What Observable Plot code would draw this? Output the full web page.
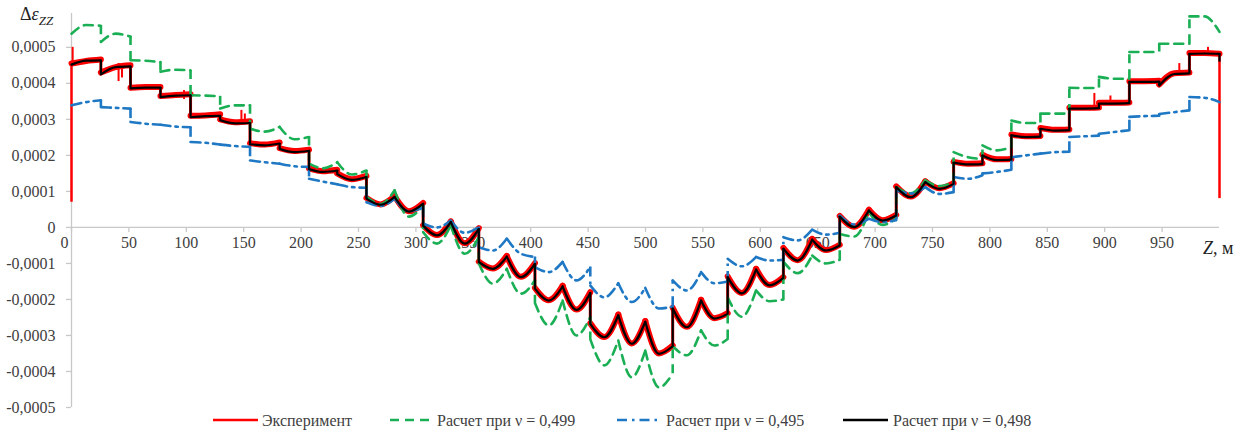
<!DOCTYPE html>
<html><head><meta charset="utf-8">
<script src="https://cdn.jsdelivr.net/npm/d3@7"></script>
<script src="https://cdn.jsdelivr.net/npm/@observablehq/plot@0.6"></script>
<style>
html,body{margin:0;padding:0;background:#fff;}
#wrap{position:relative;width:1245px;height:431px;font-family:"Liberation Serif","Times New Roman",serif;color:#404040;}
#chart svg text{font-family:"Liberation Serif","Times New Roman",serif !important;}
#ylab{position:absolute;left:20px;top:4px;font-size:18px;color:#222;font-family:"Liberation Serif",serif;}
#xlab{position:absolute;left:1203px;top:238px;font-size:18px;color:#222;font-family:"Liberation Serif",serif;}
.leg{position:absolute;top:410px;height:21px;font-size:16px;line-height:21px;white-space:nowrap;font-family:"Liberation Serif",serif;color:#404040;}
</style></head>
<body><div id="wrap">
<div id="chart"></div>
<div id="ylab">Δ<i>ε</i><sub style="font-size:13px"><i>ZZ</i></sub></div>
<div id="xlab"><i>Z</i>, м</div>
<div id="legend"></div>
</div>
<script>
// values in units of 1e-4
const SCALE = 1e-4;
const zBounds = [0, 25.6, 51.4, 77.5, 103.7, 129.5, 155.5, 181.3, 206.9, 231.5, 256.9, 281.5, 306.3, 330.4, 354.8, 379.2, 403.7, 427.8, 451.9, 476.3, 499.8, 523.7, 548.4, 571.6, 596.3, 620.1, 645.2, 669.2, 694.6, 718.4, 743.7, 768.4, 793.5, 818.7, 844, 869.2, 895, 921.5, 947.5, 973.8, 1000];

const blackStart = [4.52,4.25,3.86,3.62,3.06,2.98,2.31,2.18,1.62,1.48,0.80,0.84,0.05,0.15,-0.96,-0.81,-1.70,-1.64,-2.68,-2.44,-2.62,-2.25,-2.03,-1.38,-1.17,-0.59,-0.34,0.30,0.47,1.12,1.26,1.80,2.00,2.56,2.74,3.30,3.44,4.04,3.94,4.82];
const blackMid   = [4.63,4.45,3.88,3.66,3.09,2.89,2.28,2.09,1.54,1.32,0.63,0.44,-0.22,-0.45,-1.15,-1.38,-2.03,-2.29,-3.05,-3.23,-3.51,-2.77,-2.53,-1.83,-1.61,-0.92,-0.64,0.01,0.19,0.84,1.07,1.75,1.87,2.51,2.69,3.30,3.44,4.04,4.26,4.83];
const blackEnd   = [4.64,4.47,3.88,3.67,3.10,2.90,2.33,2.13,1.58,1.40,0.85,0.66,0.15,-0.04,-0.81,-1.01,-1.64,-1.82,-2.44,-2.62,-3.30,-2.03,-2.40,-1.17,-1.40,-0.34,-0.50,0.47,0.33,1.26,1.21,1.76,1.88,2.52,2.70,3.31,3.45,4.05,4.28,4.82];
// final drop of the calculated curve at z = 1000: from, to
const blackEdge = [4.82, 4.59];

const redStart = [4.55,4.30,3.88,3.65,3.10,3.00,2.34,2.20,1.64,1.50,0.82,0.86,0.06,0.16,-0.95,-0.80,-1.68,-1.62,-2.66,-2.42,-2.60,-2.23,-2.01,-1.36,-1.15,-0.57,-0.32,0.32,0.49,1.14,1.28,1.82,2.02,2.58,2.76,3.32,3.46,4.06,3.97,4.84];
const redMid   = [4.62,4.45,3.90,3.68,3.11,2.92,2.30,2.12,1.56,1.34,0.64,0.45,-0.21,-0.44,-1.14,-1.37,-2.02,-2.28,-3.04,-3.22,-3.50,-2.76,-2.52,-1.82,-1.60,-0.91,-0.63,0.02,0.20,0.86,1.09,1.77,1.89,2.53,2.71,3.32,3.46,4.06,4.28,4.84];
const redEnd   = [4.66,4.50,3.90,3.70,3.14,2.95,2.36,2.16,1.60,1.43,0.87,0.68,0.17,-0.02,-0.79,-0.99,-1.62,-1.80,-2.42,-2.60,-3.28,-2.01,-2.38,-1.15,-1.38,-0.32,-0.48,0.49,0.35,1.28,1.23,1.78,1.90,2.54,2.72,3.33,3.47,4.07,4.30,4.82];
// visible noise spikes of the measured curve: z, low, high
const redSpikeZ  = [1.0, 41, 44, 98, 148, 151, 891, 905, 965, 990];
const redSpikeLo = [4.5, 4.05, 4.15, 3.55, 2.95, 2.95, 3.35, 3.45, 4.30, 4.80];
const redSpikeHi = [5.0, 4.55, 4.5, 3.80, 3.25, 3.15, 3.72, 3.65, 4.55, 5.00];
// edge transitions of the measured curve: z, from, to
const redEdgeZ = [0, 1000];
const redEdgeA = [0.70, 4.82];
const redEdgeB = [4.55, 0.80];

const greenStart = [5.38,5.15,4.64,4.32,3.67,3.30,2.74,2.79,1.77,1.81,0.85,1.03,-0.13,0.06,-1.00,-1.15,-2.10,-2.03,-3.10,-3.14,-3.42,-3.30,-2.86,-1.95,-1.75,-0.95,-0.78,-0.18,0.43,1.12,1.31,2.09,2.28,2.97,3.16,3.88,4.18,4.87,5.10,5.86];
const greenMid   = [5.62,5.38,4.63,4.38,3.66,3.39,2.66,2.45,1.64,1.47,0.65,0.30,-0.45,-0.73,-1.56,-1.84,-2.72,-3.00,-3.83,-4.16,-4.44,-3.55,-3.28,-2.48,-2.05,-1.27,-1.00,-0.25,0.07,0.95,1.15,1.95,2.14,2.90,3.16,3.87,4.13,4.87,5.10,5.86];
const greenEnd   = [5.60,5.30,4.59,4.36,3.64,3.39,2.79,2.51,1.81,1.58,1.03,0.60,0.06,-0.27,-1.15,-1.47,-2.03,-2.49,-3.14,-3.42,-4.06,-2.86,-3.10,-1.75,-2.00,-0.78,-0.90,0.43,0.25,1.31,1.26,1.90,2.23,2.90,3.16,3.87,4.13,4.87,5.10,5.43];

const blueStart = [3.39,3.34,2.93,2.85,2.37,2.30,1.86,1.77,1.35,1.20,0.70,0.80,0.10,0.19,-0.55,-0.31,-1.10,-0.96,-1.61,-1.55,-1.68,-1.47,-1.24,-0.87,-0.82,-0.27,-0.06,0.33,0.24,1.03,1.12,1.40,1.50,1.95,2.05,2.51,2.60,3.07,3.15,3.62];
const blueMid   = [3.48,3.32,2.88,2.80,2.35,2.26,1.81,1.70,1.27,1.12,0.60,0.45,0.00,-0.15,-0.64,-0.73,-1.24,-1.47,-1.94,-2.07,-2.25,-1.75,-1.55,-1.08,-0.92,-0.36,-0.20,0.08,0.15,0.94,0.93,1.35,1.54,2.00,2.09,2.53,2.65,3.09,3.20,3.60];
const blueEnd   = [3.53,3.30,2.85,2.78,2.30,2.24,1.77,1.68,1.20,1.10,0.80,0.55,0.19,0.01,-0.31,-0.82,-0.96,-1.10,-1.55,-1.68,-2.20,-1.24,-1.50,-0.82,-0.90,-0.06,-0.15,0.24,0.20,1.12,0.98,1.45,1.60,2.05,2.10,2.55,2.70,3.10,3.25,3.48];

const xTicks = d3.range(0, 1000, 50);
const yTicks = [-5,-4,-3,-2,-1,0,1,2,3,4,5].map(d => d * SCALE);

function segRows(S, M, E) {
  const rows = [];
  S.forEach((s, i) => {
    const a = zBounds[i], b = zBounds[i + 1];
    rows.push({z: a, v: s * SCALE, seg: i});
    rows.push({z: (a + b) / 2, v: M[i] * SCALE, seg: i});
    rows.push({z: b, v: E[i] * SCALE, seg: i});
  });
  return rows;
}
function jumpRows(S, E) {
  const rows = [];
  for (let i = 1; i < S.length; i++) rows.push({z: zBounds[i], v1: E[i - 1] * SCALE, v2: S[i] * SCALE});
  return rows;
}
const fmt = v => {
  if (Math.abs(v) < 1e-12) return "0";
  return (v < 0 ? "-" : "") + Math.abs(v).toFixed(4).replace(".", ",");
};

const series = [
  {S: redStart, M: redMid, E: redEnd, stroke: "#ff0000", w: 6, dash: null},
  {S: greenStart, M: greenMid, E: greenEnd, stroke: "#1aaf54", w: 2.6, dash: "9,6"},
  {S: blueStart, M: blueMid, E: blueEnd, stroke: "#1f78c4", w: 2.6, dash: "10,5,2.5,5"},
  {S: blackStart, M: blackMid, E: blackEnd, stroke: "#000000", w: 2.2, dash: null}
];

const marks = [
  Plot.ruleX([0], {stroke: "#c8c8c8", strokeWidth: 1.3}),
  Plot.ruleY([0], {stroke: "#c8c8c8", strokeWidth: 1.3}),
  Plot.ruleX(xTicks, {x: d => d, y1: 0, y2: 0, insetBottom: -5, stroke: "#c8c8c8", strokeWidth: 1.3}),
  Plot.ruleY(yTicks, {y: d => d, x1: 0, x2: 0, insetLeft: -5, stroke: "#c8c8c8", strokeWidth: 1.3}),
  Plot.text(yTicks, {x: 0, y: d => d, text: fmt, textAnchor: "end", dx: -16, fill: "#404040", fontSize: 16}),
  Plot.text(xTicks.filter(d => d > 0), {x: d => d, y: 0, text: d => String(d), dy: 15, fill: "#404040", fontSize: 16}),
  Plot.text(xTicks.filter(d => d === 0), {x: d => d, y: 0, text: d => String(d), dy: 15, dx: -7, fill: "#404040", fontSize: 16})
];

series.forEach((s, k) => {
  marks.push(Plot.line(segRows(s.S, s.M, s.E), {x: "z", y: "v", z: "seg", curve: "monotone-x", stroke: s.stroke, strokeWidth: s.w, strokeDasharray: s.dash, strokeLinejoin: "round"}));
  marks.push(Plot.ruleX(jumpRows(s.S, s.E), {x: "z", y1: "v1", y2: "v2", stroke: s.stroke, strokeWidth: k === 0 ? 3 : s.w, strokeDasharray: s.dash}));
  if (k === 0) {
    const sp = redSpikeZ.map((z, i) => ({z, lo: redSpikeLo[i] * SCALE, hi: redSpikeHi[i] * SCALE}));
    marks.push(Plot.ruleX(sp, {x: "z", y1: "lo", y2: "hi", stroke: "#ff0000", strokeWidth: 2}));
    const ed = redEdgeZ.map((z, i) => ({z, a: redEdgeA[i] * SCALE, b: redEdgeB[i] * SCALE}));
    marks.push(Plot.ruleX(ed, {x: "z", y1: "a", y2: "b", stroke: "#ff0000", strokeWidth: 2.5}));
  }
  if (k === 3) {
    marks.push(Plot.ruleX([1000], {x: d => d, y1: blackEdge[0] * SCALE, y2: blackEdge[1] * SCALE, stroke: "#000", strokeWidth: 2.2}));
  }
});

const chart = Plot.plot({
  width: 1245, height: 410,
  marginLeft: 71, marginRight: 26, marginTop: 13, marginBottom: 3,
  x: {domain: [0, 1000], axis: null},
  y: {domain: [-0.0005, 0.000594], axis: null},
  style: {fontFamily: "'Liberation Serif', 'Times New Roman', serif", fontSize: "16px", background: "white", overflow: "visible"},
  marks
});
document.getElementById("chart").appendChild(chart);

// legend
const legendItems = [
  {label: "Эксперимент", stroke: "#ff0000", dash: null, x0: 213, x1: 258, tx: 262},
  {label: "Расчет при ν = 0,499", stroke: "#1aaf54", dash: "9,6", x0: 390, x1: 431, tx: 437},
  {label: "Расчет при ν = 0,495", stroke: "#1f78c4", dash: "10,5,2.5,5", x0: 617, x1: 660, tx: 666},
  {label: "Расчет при ν = 0,498", stroke: "#000000", dash: null, x0: 843, x1: 888, tx: 893}
];
const leg = document.getElementById("legend");
legendItems.forEach(it => {
  const s = document.createElementNS("http://www.w3.org/2000/svg", "svg");
  s.setAttribute("width", it.x1 - it.x0); s.setAttribute("height", 21);
  s.style.position = "absolute"; s.style.left = it.x0 + "px"; s.style.top = "410px";
  const l = document.createElementNS("http://www.w3.org/2000/svg", "line");
  l.setAttribute("x1", 0); l.setAttribute("x2", it.x1 - it.x0); l.setAttribute("y1", 10); l.setAttribute("y2", 10);
  l.setAttribute("stroke", it.stroke); l.setAttribute("stroke-width", 2.6);
  if (it.dash) l.setAttribute("stroke-dasharray", it.dash);
  s.appendChild(l); leg.appendChild(s);
  const t = document.createElement("div");
  t.className = "leg"; t.style.left = it.tx + "px"; t.textContent = it.label;
  leg.appendChild(t);
});
</script>
</body></html>
